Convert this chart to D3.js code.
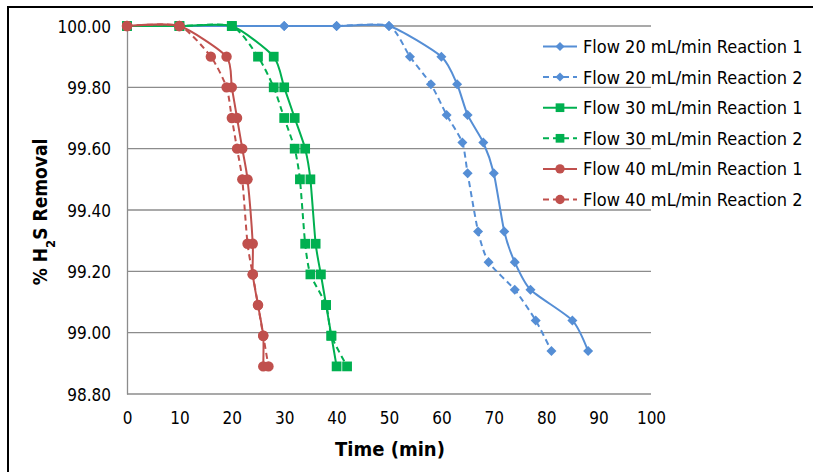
<!DOCTYPE html>
<html>
<head>
<meta charset="UTF-8">
<title>H2S Removal</title>
<script src="https://d3js.org/d3.v7.min.js"></script>
<style>
  body { margin: 0; background: #fff; }
  text { font-family: Tahoma, "DejaVu Sans Condensed", "DejaVu Sans", sans-serif; fill: #000; }
</style>
</head>
<body>
<script>
// x ticks / y ticks
var timeTicks = [0, 10, 20, 30, 40, 50, 60, 70, 80, 90, 100];
var removalTicks = [98.8, 99.0, 99.2, 99.4, 99.6, 99.8, 100.0];

// Flow 20 mL/min
var f20r1Time = [0, 10, 20, 30, 40, 50, 60, 63, 65, 68, 70, 72, 74, 77, 85, 88];
var f20r1Val  = [100, 100, 100, 100, 100, 100, 99.90, 99.81, 99.71, 99.62, 99.52, 99.33, 99.23, 99.14, 99.04, 98.94];
var f20r2Time = [0, 10, 20, 30, 40, 50, 54, 58, 61, 64, 65, 67, 69, 74, 78, 81];
var f20r2Val  = [100, 100, 100, 100, 100, 100, 99.90, 99.81, 99.71, 99.62, 99.52, 99.33, 99.23, 99.14, 99.04, 98.94];

// Flow 30 mL/min
var f30r1Time = [0, 10, 20, 28, 30, 32, 34, 35, 36, 37, 38, 39, 40];
var f30r1Val  = [100, 100, 100, 99.90, 99.80, 99.70, 99.60, 99.50, 99.29, 99.19, 99.09, 98.99, 98.89];
var f30r2Time = [0, 10, 20, 25, 28, 30, 32, 33, 34, 35, 38, 39, 42];
var f30r2Val  = [100, 100, 100, 99.90, 99.80, 99.70, 99.60, 99.50, 99.29, 99.19, 99.09, 98.99, 98.89];

// Flow 40 mL/min
var f40r1Time = [0, 10, 19, 20, 21, 22, 23, 24, 24, 25, 26, 26];
var f40r1Val  = [100, 100, 99.90, 99.80, 99.70, 99.60, 99.50, 99.29, 99.19, 99.09, 98.99, 98.89];
var f40r2Time = [0, 10, 16, 19, 20, 21, 22, 23, 24, 25, 26, 27];
var f40r2Val  = [100, 100, 99.90, 99.80, 99.70, 99.60, 99.50, 99.29, 99.19, 99.09, 98.99, 98.89];

var seriesNames = ["Flow 20 mL/min Reaction 1", "Flow 20 mL/min Reaction 2",
                   "Flow 30 mL/min Reaction 1", "Flow 30 mL/min Reaction 2",
                   "Flow 40 mL/min Reaction 1", "Flow 40 mL/min Reaction 2"];

function zipSeries(t, v) {
  return t.map(function (d, i) { return { t: d, v: v[i] }; });
}

var series = [
  { name: seriesNames[0], pts: zipSeries(f20r1Time, f20r1Val), color: "#558ed5", dash: null, sym: d3.symbolDiamond2, size: 64 },
  { name: seriesNames[1], pts: zipSeries(f20r2Time, f20r2Val), color: "#558ed5", dash: "6,4", sym: d3.symbolDiamond2, size: 64 },
  { name: seriesNames[2], pts: zipSeries(f30r1Time, f30r1Val), color: "#00b050", dash: null, sym: d3.symbolSquare, size: 95 },
  { name: seriesNames[3], pts: zipSeries(f30r2Time, f30r2Val), color: "#00b050", dash: "6,4", sym: d3.symbolSquare, size: 95 },
  { name: seriesNames[4], pts: zipSeries(f40r1Time, f40r1Val), color: "#c0504d", dash: null, sym: d3.symbolCircle, size: 85 },
  { name: seriesNames[5], pts: zipSeries(f40r2Time, f40r2Val), color: "#c0504d", dash: "6,4", sym: d3.symbolCircle, size: 85 }
];

var width = 813, height = 472;
var svg = d3.select("body").append("svg")
  .attr("width", width)
  .attr("height", height);

// outer frame (only top and left edges fall inside the picture)
svg.append("rect")
  .attr("x", 8).attr("y", 7)
  .attr("width", 900).attr("height", 600)
  .attr("fill", "none")
  .attr("stroke", "#000")
  .attr("stroke-width", 2);

var x = d3.scaleLinear().domain([0, 100]).range([127, 651]);
var y = d3.scaleLinear().domain([98.8, 100]).range([394, 26]);

// gridlines
svg.append("g")
  .selectAll("line")
  .data(removalTicks)
  .enter()
  .append("line")
  .attr("x1", x(0)).attr("x2", x(100))
  .attr("y1", function (d) { return y(d); })
  .attr("y2", function (d) { return y(d); })
  .attr("stroke", "#8c8c8c")
  .attr("stroke-width", 1.3);

// y axis
var yAxis = svg.append("g")
  .attr("transform", "translate(" + x(0) + ",0)")
  .call(d3.axisLeft(y).tickValues(removalTicks).tickSize(0).tickPadding(16)
    .tickFormat(d3.format(".2f")));
yAxis.select(".domain").attr("stroke", "#8c8c8c").attr("stroke-width", 1.3);
yAxis.selectAll("text").style("font-size", "17px").attr("dy", "0.36em");

// x axis
var xAxis = svg.append("g")
  .attr("transform", "translate(0," + y(98.8) + ")")
  .call(d3.axisBottom(x).tickValues(timeTicks).tickSize(0).tickPadding(18));
xAxis.select(".domain").remove();
xAxis.selectAll("text").style("font-size", "17px");

// axis titles
svg.append("text")
  .attr("x", 390).attr("y", 456)
  .attr("text-anchor", "middle")
  .style("font-size", "20px")
  .style("font-weight", "bold")
  .text("Time (min)");

var yt = svg.append("text")
  .attr("transform", "translate(47,212) rotate(-90)")
  .attr("text-anchor", "middle")
  .style("font-size", "19px")
  .style("font-weight", "bold");
yt.append("tspan").text("% H");
yt.append("tspan").attr("baseline-shift", "sub").style("font-size", "13px").text("2");
yt.append("tspan").text("S Removal");

// lines and markers
var line = d3.line()
  .x(function (d) { return x(d.t); })
  .y(function (d) { return y(d.v); })
  .curve(d3.curveCardinal.tension(0.35));

series.forEach(function (s) {
  svg.append("path")
    .datum(s.pts)
    .attr("d", line)
    .attr("fill", "none")
    .attr("stroke", s.color)
    .attr("stroke-width", 2)
    .attr("stroke-dasharray", s.dash);

  svg.append("g")
    .selectAll("path")
    .data(s.pts)
    .enter()
    .append("path")
    .attr("transform", function (d) { return "translate(" + x(d.t) + "," + y(d.v) + ")"; })
    .attr("d", d3.symbol().type(s.sym).size(s.size))
    .attr("fill", s.color);
});

// legend
var legend = svg.append("g")
  .selectAll("g")
  .data(series)
  .enter()
  .append("g")
  .attr("transform", function (d, i) { return "translate(543," + (46.5 + i * 30.6) + ")"; });

legend.append("line")
  .attr("x1", 0).attr("x2", 34)
  .attr("stroke", function (d) { return d.color; })
  .attr("stroke-width", 2)
  .attr("stroke-dasharray", function (d) { return d.dash; });

legend.append("path")
  .attr("transform", "translate(17,0)")
  .attr("d", function (d) { return d3.symbol().type(d.sym).size(d.size * 0.8)(); })
  .attr("fill", function (d) { return d.color; });

legend.append("text")
  .attr("x", 40)
  .attr("dy", "0.36em")
  .style("font-size", "18px")
  .text(function (d) { return d.name; });
</script>
</body>
</html>
